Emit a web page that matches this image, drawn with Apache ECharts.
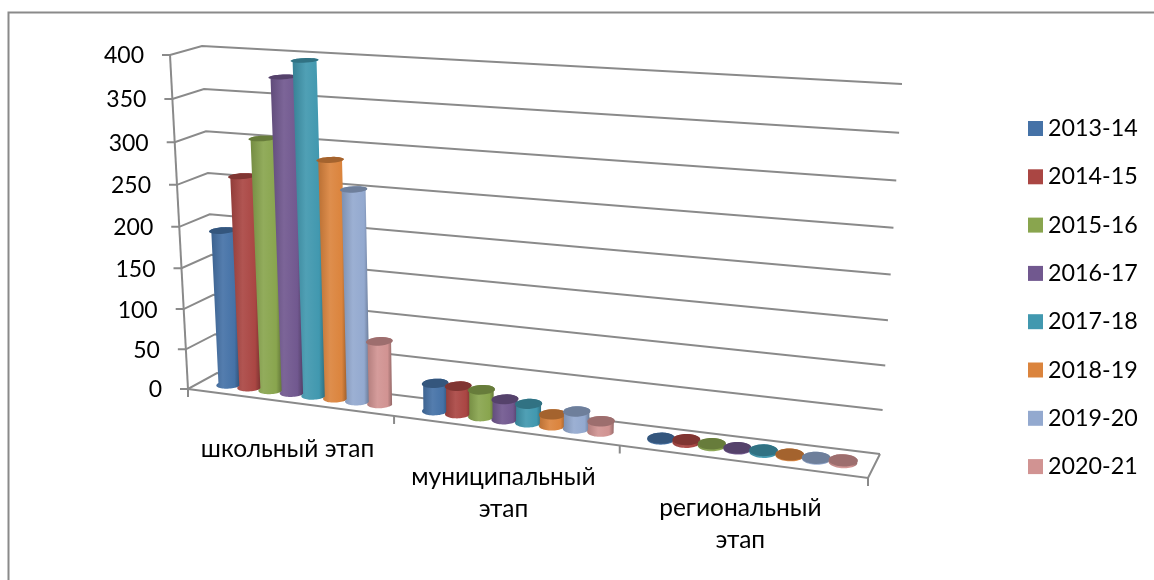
<!DOCTYPE html>
<html>
<head>
<meta charset="utf-8">
<script src="https://cdn.jsdelivr.net/npm/echarts@6/dist/echarts.min.js"></script>
<style>
  html, body { margin: 0; padding: 0; background: #fff; }
  #chart { width: 1154px; height: 580px; }
</style>
</head>
<body>
<div id="chart"></div>
<script>
const categories = ['школьный этап', 'муниципальный\nэтап', 'региональный\nэтап'];
const seasons = ['2013-14', '2014-15', '2015-16', '2016-17', '2017-18', '2018-19', '2019-20', '2020-21'];
const yTicks = [0, 50, 100, 150, 200, 250, 300, 350, 400];

const s2013 = [191, 33, 1];
const s2014 = [258, 33, 3];
const s2015 = [304, 32, 2];
const s2016 = [376, 24, 1];
const s2017 = [396, 22, 2];
const s2018 = [285, 13, 1];
const s2019 = [253, 20, 1];
const s2020 = [76, 12, 2];
const allValues = [s2013, s2014, s2015, s2016, s2017, s2018, s2019, s2020];

const colors = ['#4572a7', '#aa4643', '#89a54e', '#71588f', '#4198af', '#db843d', '#93a9cf', '#d19392'];

const FONT = 'Lato, "Noto Sans", sans-serif';
const LINE = '#8a8a8a';

// grid the hidden axes work in, its result gets bent into the 3d box below
const gridBox = { left: 188, top: 55, width: 680, height: 334 };

// corners of the box as they sit on the screen
const box = {
  fb0: [188, 389], fb1: [868, 478],
  bb0: [217, 373], bb1: [880, 454],
  ft0: [170, 55], ft1: [891, 93],
  bt0: [202, 46], bt1: [902, 84]
};

const warp = (t, k) => t / (t + k * (1 - t));
const lerp = (a, b, t) => [a[0] + (b[0] - a[0]) * t, a[1] + (b[1] - a[1]) * t];

// u across the floor, d front to back, h up the wall (all 0..1)
const proj = (u, d, h) => {
  const fu = warp(u, 1.15);
  const gh = warp(h, 1.06);
  const bottom = lerp(lerp(box.fb0, box.fb1, fu), lerp(box.bb0, box.bb1, fu), d);
  const top = lerp(lerp(box.ft0, box.ft1, fu), lerp(box.bt0, box.bt1, fu), d);
  return lerp(bottom, top, gh);
};

const toU = (px) => (px - gridBox.left) / gridBox.width;
const toH = (py) => (gridBox.top + gridBox.height - py) / gridBox.height;

const shade = (hex, f) => {
  const n = parseInt(hex.slice(1), 16);
  const ch = [n >> 16, (n >> 8) & 255, n & 255].map((c) => {
    const v = f < 1 ? c * f : c + (255 - c) * (f - 1);
    return Math.round(v);
  });
  return `rgb(${ch[0]},${ch[1]},${ch[2]})`;
};

const line = (points, width) => ({
  type: 'polyline',
  silent: true,
  shape: { points: points },
  style: { stroke: LINE, lineWidth: width || 2, fill: null }
});

// walls and y axis, one call per tick
const renderWall = (params, api) => {
  const v = api.value(1);
  const h = toH(api.coord([0, v])[1]);
  const front = proj(0, 0, h);
  const children = [
    line([[front[0] - 8, front[1]], front, proj(0, 1, h), proj(1, 1, h)]),
    {
      type: 'text',
      style: {
        text: String(v),
        x: front[0] - 26,
        y: front[1] + 1,
        align: 'right',
        verticalAlign: 'middle',
        fontSize: 23,
        fontFamily: FONT,
        fill: '#000'
      }
    }
  ];
  if (v === 0) {
    children.push(line([proj(0, 0, 0), proj(1, 0, 0), proj(1, 1, 0)]));
    children.push(line([proj(0, 0, 0), proj(0, 0, 1)]));
  }
  return { type: 'group', children: children };
};

// category ticks and names
const renderCategory = (params, api) => {
  const i = api.value(0);
  const c = api.coord([i, 0]);
  const band = api.size([1, 0])[0];
  const left = proj(toU(c[0] - band / 2), 0, 0);
  const right = proj(toU(c[0] + band / 2), 0, 0);
  const children = [line([left, [left[0], left[1] + 8]])];
  if (i === categories.length - 1) children.push(line([right, [right[0], right[1] + 8]]));
  const mid = lerp(left, right, 0.5);
  children.push({
    type: 'text',
    style: {
      text: categories[i],
      x: mid[0] - 3.5,
      y: mid[1] + 30.5,
      align: 'center',
      verticalAlign: 'top',
      lineHeight: 32,
      fontSize: 24.5,
      fontFamily: FONT,
      fill: '#000'
    }
  });
  return { type: 'group', children: children };
};

const ring = (u, h, from, to) => {
  const pts = [];
  const n = 28;
  for (let k = 0; k <= n; k++) {
    const t = from + (to - from) * k / n;
    pts.push(proj(u + 0.0185 * Math.cos(t), 0.5 + 0.25 * Math.sin(t), h));
  }
  return pts;
};

const renderCylinder = (j) => (params, api) => {
  const cat = api.value(0);
  const c = api.coord([cat, api.value(1)]);
  const band = api.size([1, 0])[0];
  const cx = c[0] + (0.137 + 0.106 * j - 0.5) * band;
  const u = toU(cx);
  const h = toH(c[1]);
  const col = colors[j];
  const side = ring(u, 0, Math.PI, 2 * Math.PI).concat(ring(u, h, 0, Math.PI));
  return {
    type: 'group',
    children: [
      {
        type: 'polygon',
        silent: true,
        shape: { points: side },
        style: {
          fill: new echarts.graphic.LinearGradient(0, 0, 1, 0, [
            { offset: 0, color: shade(col, 0.85) },
            { offset: 0.4, color: shade(col, 1.08) },
            { offset: 0.8, color: col },
            { offset: 1, color: shade(col, 0.68) }
          ])
        }
      },
      {
        type: 'polygon',
        silent: true,
        shape: { points: ring(u, h, 0, 2 * Math.PI) },
        style: { fill: shade(col, 0.75) }
      }
    ]
  };
};

const chart = echarts.init(document.getElementById('chart'), null, { renderer: 'canvas' });

chart.setOption({
  animation: false,
  color: colors,
  grid: gridBox,
  xAxis: { type: 'category', data: categories, show: false },
  yAxis: { type: 'value', min: 0, max: 400, interval: 50, show: false },
  legend: {
    data: seasons,
    orient: 'vertical',
    left: 1028,
    top: 117,
    padding: 0,
    icon: 'rect',
    itemWidth: 15,
    itemHeight: 15,
    itemGap: 25.3,
    selectedMode: false,
    textStyle: { fontSize: 23.3, fontFamily: FONT, color: '#000' }
  },
  graphic: [
    {
      type: 'polyline',
      silent: true,
      shape: { points: [[8.5, 580], [8.5, 12.5], [1154, 12.5]] },
      style: { stroke: LINE, lineWidth: 2, fill: null }
    }
  ],
  series: [
    {
      type: 'custom',
      name: 'wall',
      silent: true,
      clip: false,
      renderItem: renderWall,
      encode: { x: 0, y: 1 },
      data: yTicks.map((v) => [0, v])
    },
    {
      type: 'custom',
      name: 'categories',
      silent: true,
      clip: false,
      renderItem: renderCategory,
      encode: { x: 0, y: 1 },
      data: categories.map((n, i) => [i, 0])
    }
  ].concat(seasons.map((name, j) => ({
    type: 'custom',
    name: name,
    clip: false,
    itemStyle: { color: colors[j] },
    renderItem: renderCylinder(j),
    encode: { x: 0, y: 1 },
    data: allValues[j].map((v, i) => [i, v])
  })))
});
</script>
</body>
</html>
